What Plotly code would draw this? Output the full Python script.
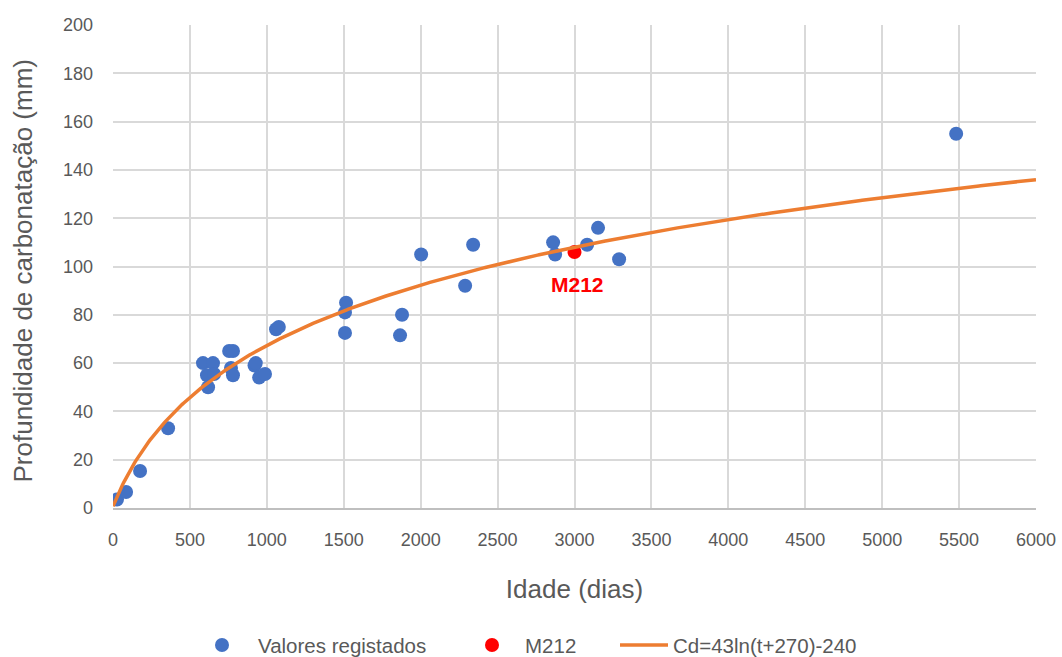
import numpy as np
import plotly.graph_objects as go

# Recorded carbonation depths (age in days, depth in mm)
idade = [26, 85, 176, 358, 585, 650, 611, 657, 618, 755, 780, 767, 780,
         920, 928, 950, 988, 1060, 1078, 1508, 1508, 1515, 1866, 1879,
         2003, 2289, 2341, 2861, 2874, 3082, 3153, 3290, 5481]
profundidade = [3.5, 6.6, 15.3, 33, 60, 60, 55, 55.5, 50, 65, 65, 58, 55,
                59, 60, 54, 55.5, 74, 75, 72.5, 81, 85, 71.5, 80,
                105, 92, 109, 110, 105, 109, 116, 103, 155]

# Highlighted sample
m212_idade = [3000]
m212_prof = [106]

# Fitted model Cd = a*ln(t + b) - c
coef_a, coef_b, coef_c = 43, 270, 240
t_fit = np.linspace(0, 6000, 601)
cd_fit = coef_a * np.log(t_fit + coef_b) - coef_c

font_main = "Liberation Sans, Arial, sans-serif"
grey = "#595959"

fig = go.Figure()
fig.add_trace(go.Scatter(
    x=idade, y=profundidade, mode="markers", name="Valores registados",
    marker=dict(color="#4472C4", size=14), legend="legend"))
fig.add_trace(go.Scatter(
    x=m212_idade, y=m212_prof, mode="markers", name="M212",
    marker=dict(color="#FF0000", size=14), legend="legend2"))
fig.add_trace(go.Scatter(
    x=t_fit, y=cd_fit, mode="lines", name="Cd=43ln(t+270)-240",
    line=dict(color="#ED7D31", width=3.5), legend="legend3"))

fig.add_annotation(x=m212_idade[0], y=m212_prof[0] - 13.3, xshift=3,
                   text="<b>M212</b>", showarrow=False,
                   font=dict(color="#FF0000", size=21, family=font_main))

# Vertical axis title, placed left of the tick labels
fig.add_annotation(xref="paper", yref="paper", x=0, y=0.5, xshift=-91,
                   yshift=-5, textangle=-90, showarrow=False,
                   xanchor="center", yanchor="middle",
                   text="Profundidade de carbonatação (mm)",
                   font=dict(size=26, color=grey, family=font_main))

legend_common = dict(yref="container", xref="container", y=0.018,
                     yanchor="middle", xanchor="left",
                     font=dict(size=20.5, color=grey, family=font_main),
                     bgcolor="rgba(0,0,0,0)")

fig.update_layout(
    width=1062, height=657,
    margin=dict(l=113, r=26, t=25, b=149, autoexpand=False),
    plot_bgcolor="white", paper_bgcolor="white",
    font=dict(family=font_main, color=grey, size=17),
    showlegend=True,
    legend=dict(x=186 / 1062, itemwidth=62, **legend_common),
    legend2=dict(x=459 / 1062, itemwidth=56, **legend_common),
    legend3=dict(x=615 / 1062, itemwidth=48, **legend_common),
    xaxis=dict(range=[0, 6000], dtick=500, showgrid=True, automargin=False,
               gridcolor="#D9D9D9", gridwidth=1.5, zeroline=False,
               showline=True, linecolor="#BFBFBF", linewidth=1.5,
               ticks="", ticklabelstandoff=15,
               tickfont=dict(size=18, color=grey),
               title=dict(text="Idade (dias)", font=dict(size=26, color=grey),
                          standoff=30)),
    yaxis=dict(range=[0, 200], dtick=20, showgrid=True, automargin=False,
               gridcolor="#D9D9D9", gridwidth=1.5, zeroline=False,
               showline=False, ticks="", ticklabelstandoff=19,
               tickfont=dict(size=18, color=grey)),
)

fig.write_html("out.html")
